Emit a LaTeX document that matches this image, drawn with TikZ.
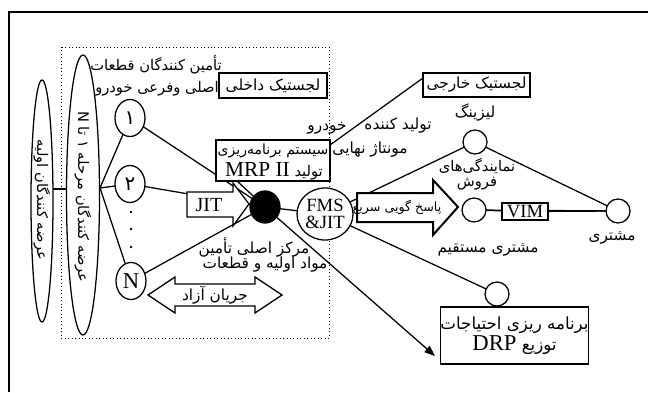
\documentclass[tikz,border=0pt]{standalone}
\usepackage{fontspec}
\setmainfont{Liberation Serif}
\newfontfamily\arabicfont[Script=Arabic]{DejaVu Sans}
\TeXXeTstate=1
\usetikzlibrary{shapes.geometric,arrows.meta}
\newcommand{\prs}[1]{{\arabicfont\beginR #1\endR}}
\begin{document}
\begin{tikzpicture}[x=0.75pt,y=-0.75pt,line width=0.95pt,
  every node/.style={inner sep=0pt},
  lat/.style={font=\fontsize{15}{17}\selectfont},
  fa/.style={font=\fontsize{11}{15}\selectfont},
  fab/.style={font=\fontsize{11.5}{15}\selectfont},
  farot/.style={font=\fontsize{11}{15}\selectfont},
  oval/.style={draw,ellipse,fill=white},
  supc/.style={draw,ellipse,fill=white,minimum width=22.5pt,minimum height=27.75pt},
  smallc/.style={draw,circle,fill=white,minimum size=18pt},
  boxed/.style={draw,fill=white,align=center},
  blockarrow/.style={draw,fill=white,line join=miter}
]
\useasboundingbox (0,0) rectangle (648,392);
% frame
\draw[line width=1.3pt] (9,392) -- (9,12) -- (648,12);
% dotted region
\draw[dotted,line width=0.6pt] (61,47) rectangle (329,338);

% supplier ellipses
\node[oval,minimum width=16.5pt,minimum height=181.5pt] (outer) at (42,201) {};
\node[oval,minimum width=24.75pt,minimum height=210pt] (mid) at (83,195) {};
\node[farot,rotate=-90] (outert) at (42,200) {\prs{عرضه کنندگان اولیه}};
\node[farot,rotate=-90] (midt) at (83,197) {\prs{عرضه کنندگان مرحله ۱ تا \beginL N\endL}};

\coordinate (hubL) at (53,189);
\coordinate (hubR) at (67,189);
\coordinate (hub) at (100,188);

\coordinate (s1p) at (130,118);
\coordinate (s2p) at (130,184);
\coordinate (sNp) at (131,281);
\coordinate (blkp) at (265,207);
\coordinate (fmsp) at (325,214);
\coordinate (lizp) at (475,142);
\coordinate (dirp) at (474,210);
\coordinate (custp) at (618,211);
\coordinate (drpcp) at (497,294);
\coordinate (tip) at (435,356);
\coordinate (mrpc) at (330,145);
\coordinate (extc) at (423,78);
\coordinate (mrpptr) at (237,181);

% connectors under shapes
\draw (hubL) -- (hubR);
\draw (hub) -- (s1p);
\draw (hub) -- (s2p);
\draw (hub) -- (sNp);
\draw (s1p) -- (blkp);
\draw (s2p) -- (blkp);
\draw (sNp) -- (blkp);
\draw (blkp) -- (fmsp);
\draw (fmsp) -- (drpcp);
\draw (fmsp) -- (lizp);
\draw (lizp) -- (custp);
\draw (dirp) -- (custp);
\draw (mrpc) -- (extc);
\draw (mrpptr) -- (blkp);

% supplier circles
\node[supc,lat] (s1) at (s1p) {\prs{۱}};
\node[supc,lat] (s2) at (s2p) {\prs{۲}};
\node[supc,font=\fontsize{17}{19}\selectfont] (sN) at (sNp) {N};
\foreach \yy in {212,229,247} \fill (131,\yy) circle (1.4);

% JIT block arrow
\draw[blockarrow] (187,192) -- (233,192) -- (233,183) -- (249,204) -- (233,226) -- (233,217) -- (187,217) -- cycle;
\node[lat] (jit) at (209,205) {JIT};

% MRP box
\node[boxed,minimum width=85.5pt,minimum height=30.75pt] (mrp) at (273,160.5) {};
\node[font=\fontsize{10.5}{13}\selectfont] (mrp1) at (273,151) {\prs{سیستم برنامه‌ریزی}};
\node[fa] (mrp2) at (274,171) {\prs{تولید {\rmfamily\fontsize{16}{18}\selectfont\beginL MRP II\endL}}};

% black node
\node[draw,ellipse,fill=black,minimum width=22.5pt,minimum height=24pt] (blk) at (blkp) {};
\draw[-{Triangle[length=8pt,width=6pt]}] (blk) -- (tip);

% FMS
\node[draw,ellipse,fill=white,minimum width=42pt,minimum height=39pt,align=center,
      font=\fontsize{14}{12.5}\selectfont] (fms) at (fmsp) {FMS\\\&JIT};

% response block arrow
\draw[blockarrow,line width=1.5pt] (357,193) -- (433,193) -- (433,180) -- (458,207) -- (433,235) -- (433,222) -- (357,222) -- cycle;
\node[font=\fontsize{9.5}{12}\selectfont] (resp) at (397,207) {\prs{پاسخ گویی سریع}};

% free flow double arrow
\draw[blockarrow] (148,295) -- (175,277) -- (175,284) -- (255,284) -- (255,277) -- (282,295) -- (255,313) -- (255,306) -- (175,306) -- (175,313) -- cycle;
\node[fab] (flow) at (215,295) {\prs{جریان آزاد}};

% right side circles and boxes
\node[smallc] (liz) at (lizp) {};
\node[smallc] (dir) at (dirp) {};
\node[smallc] (cust) at (custp) {};
\node[smallc] (drpc) at (drpcp) {};
\node[boxed,minimum width=34.5pt,minimum height=12.75pt,font=\fontsize{14}{14}\selectfont] (vim) at (525,211.5) {VIM};
\draw (dir) -- (vim);
\draw (vim) -- (cust);
\node[boxed,font=\fontsize{12.5}{15}\selectfont,minimum width=108.75pt,minimum height=42.75pt] (drp) at (514.5,335.5)
  {\prs{برنامه ریزی احتیاجات}\\[1pt]\prs{توزیع {\rmfamily\fontsize{17}{18}\selectfont\beginL DRP\endL}}};
\node[boxed,fab,minimum width=80.25pt,minimum height=18pt] (extlog) at (476.5,85) {\prs{لجستیک خارجی}};
\node[boxed,fab,minimum width=81pt,minimum height=18.75pt] (intlog) at (273,85.5) {\prs{لجستیک داخلی}};

% labels
\node[fa] (l1) at (156,65) {\prs{تأمین کنندگان قطعات}};
\node[fa] (l2) at (157,89) {\prs{اصلی وفرعی خودرو}};
\node[fab] (l3) at (475,113) {\prs{لیزینگ}};
\node[fa] (l4) at (477,166) {\prs{نمایندگی‌های}};
\node[fa] (l5) at (477,184) {\prs{فروش}};
\node[fab] (l6) at (398,126) {\prs{تولید کننده}};
\node[fab] (l7) at (327,128) {\prs{خودرو}};
\node[fab] (l8) at (370,150) {\prs{مونتاژ نهایی}};
\node[fab] (l9) at (254,247) {\prs{مرکز اصلی تأمین}};
\node[fab] (l10) at (265,265) {\prs{مواد اولیه و قطعات}};
\node[fab] (l11) at (488,250) {\prs{مشتری مستقیم}};
\node[fab] (l12) at (612,238) {\prs{مشتری}};
\end{tikzpicture}
\end{document}
